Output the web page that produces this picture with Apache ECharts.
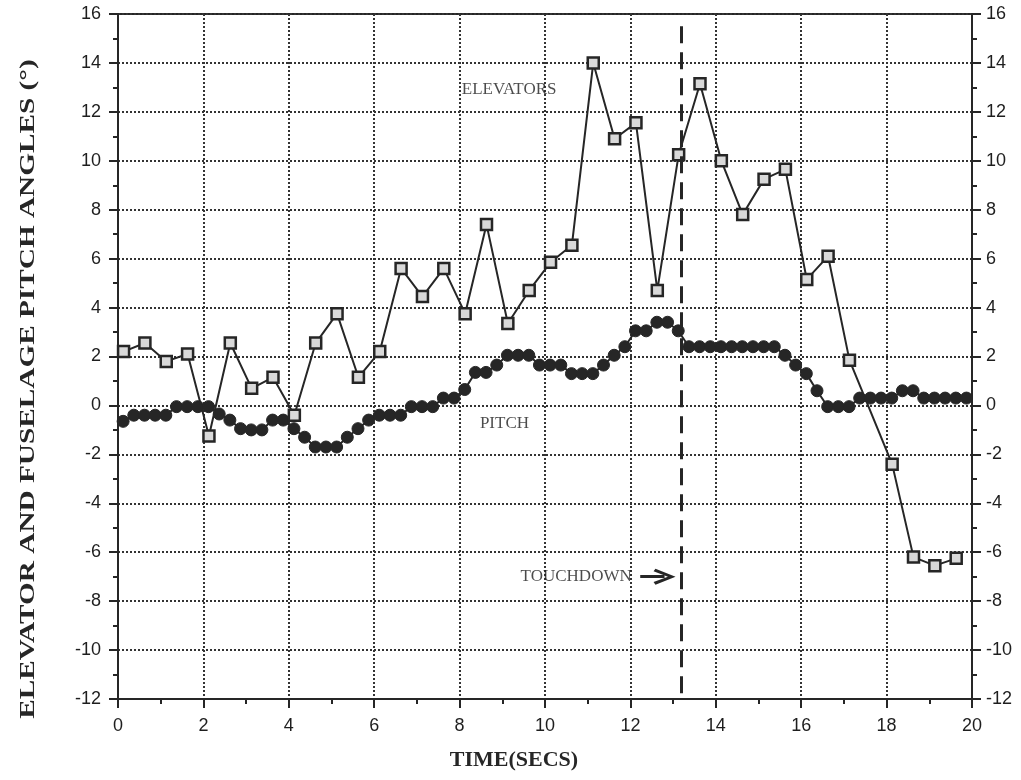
<!DOCTYPE html>
<html>
<head>
<meta charset="utf-8">
<script src="https://cdn.jsdelivr.net/npm/echarts@6/dist/echarts.min.js"></script>
<style>
  html, body { margin: 0; padding: 0; background: #fff; }
  #chart { width: 1021px; height: 780px; }
</style>
</head>
<body>
<div id="chart"></div>
<script>
// ---- Data ----
var elevTime = [0.13, 0.63, 1.13, 1.63, 2.13, 2.63, 3.13, 3.63, 4.13, 4.63,
                5.13, 5.63, 6.13, 6.63, 7.13, 7.63, 8.13, 8.63, 9.13, 9.63,
                10.13, 10.63, 11.13, 11.63, 12.13, 12.63, 13.13, 13.63, 14.13, 14.63,
                15.13, 15.63, 16.13, 16.63, 17.13, 18.13, 18.63, 19.13, 19.63];
var elevValue = [2.2, 2.55, 1.8, 2.1, -1.25, 2.55, 0.7, 1.15, -0.4, 2.55,
                 3.75, 1.15, 2.2, 5.6, 4.45, 5.6, 3.75, 7.4, 3.35, 4.7,
                 5.85, 6.55, 14.0, 10.9, 11.55, 4.7, 10.25, 13.15, 10.0, 7.8,
                 9.25, 9.65, 5.15, 6.1, 1.85, -2.4, -6.2, -6.55, -6.25];

var pitchTime = [0.12, 0.37, 0.62, 0.87, 1.12, 1.37, 1.62, 1.87, 2.12, 2.37,
                 2.62, 2.87, 3.12, 3.37, 3.62, 3.87, 4.12, 4.37, 4.62, 4.87,
                 5.12, 5.37, 5.62, 5.87, 6.12, 6.37, 6.62, 6.87, 7.12, 7.37,
                 7.62, 7.87, 8.12, 8.37, 8.62, 8.87, 9.12, 9.37, 9.62, 9.87,
                 10.12, 10.37, 10.62, 10.87, 11.12, 11.37, 11.62, 11.87, 12.12, 12.37,
                 12.62, 12.87, 13.12, 13.37, 13.62, 13.87, 14.12, 14.37, 14.62, 14.87,
                 15.12, 15.37, 15.62, 15.87, 16.12, 16.37, 16.62, 16.87, 17.12, 17.37,
                 17.62, 17.87, 18.12, 18.37, 18.62, 18.87, 19.12, 19.37, 19.62, 19.87];
var pitchValue = [-0.65, -0.4, -0.4, -0.4, -0.4, -0.05, -0.05, -0.05, -0.05, -0.35,
                  -0.6, -0.95, -1.0, -1.0, -0.6, -0.6, -0.95, -1.3, -1.7, -1.7,
                  -1.7, -1.3, -0.95, -0.6, -0.4, -0.4, -0.4, -0.05, -0.05, -0.05,
                  0.3, 0.3, 0.65, 1.35, 1.35, 1.65, 2.05, 2.05, 2.05, 1.65,
                  1.65, 1.65, 1.3, 1.3, 1.3, 1.65, 2.05, 2.4, 3.05, 3.05,
                  3.4, 3.4, 3.05, 2.4, 2.4, 2.4, 2.4, 2.4, 2.4, 2.4,
                  2.4, 2.4, 2.05, 1.65, 1.3, 0.6, -0.05, -0.05, -0.05, 0.3,
                  0.3, 0.3, 0.3, 0.6, 0.6, 0.3, 0.3, 0.3, 0.3, 0.3];

var touchdownTime = 13.2;
var touchdownTop = 15.5;

var annotationText = ['ELEVATORS', 'PITCH', 'TOUCHDOWN'];
var annotationX = [9.16, 9.05, 10.73];
var annotationY = [12.9, -0.73, -7.0];
var arrowFrom = [12.23, -7.0];
var arrowTo = [12.8, -7.0];

var xMin = 0, xMax = 20, xStep = 2;
var yMin = -12, yMax = 16, yStep = 2;

var xTitle = 'TIME(SECS)';
var yTitle = 'ELEVATOR AND FUSELAGE PITCH ANGLES (°)';

// ---- Build ----
var INK = '#262626';
function pairs(xs, ys) { return xs.map(function (x, i) { return [x, ys[i]]; }); }
var annData = annotationText.map(function (t, i) { return [annotationX[i], annotationY[i], t]; });

var chevron = 'path://M9,0 L18,21 L15,23 L9,8 L3,23 L0,21 Z';

var tickLabel = { color: '#1e1e1e', fontFamily: 'Liberation Sans', fontSize: 18 };
var gridLine = { color: '#333', width: 2, type: [2, 2] };

var chart = echarts.init(document.getElementById('chart'), null, { renderer: 'canvas' });
chart.setOption({
  animation: false,
  backgroundColor: '#fff',
  grid: { left: 118, right: 49, top: 14, bottom: 81, show: true,
          borderColor: INK, borderWidth: 2, backgroundColor: 'transparent' },
  xAxis: {
    type: 'value', min: xMin, max: xMax, interval: xStep,
    axisLine: { show: true, onZero: false, lineStyle: { color: INK, width: 2 } },
    axisTick: { show: true, length: 9, lineStyle: { color: INK, width: 2 } },
    minorTick: { show: true, splitNumber: 2, length: 5, lineStyle: { color: INK, width: 2 } },
    axisLabel: Object.assign({ margin: 18 }, tickLabel),
    splitLine: { show: true, lineStyle: gridLine }
  },
  yAxis: [{
    type: 'value', min: yMin, max: yMax, interval: yStep, position: 'left',
    axisLine: { show: true, onZero: false, lineStyle: { color: INK, width: 2 } },
    axisTick: { show: true, length: 9, lineStyle: { color: INK, width: 2 } },
    minorTick: { show: true, splitNumber: 2, length: 5, lineStyle: { color: INK, width: 2 } },
    axisLabel: Object.assign({ margin: 17 }, tickLabel),
    splitLine: { show: true, lineStyle: gridLine }
  }, {
    type: 'value', min: yMin, max: yMax, interval: yStep, position: 'right',
    axisLine: { show: true, onZero: false, lineStyle: { color: INK, width: 2 } },
    axisTick: { show: true, length: 9, lineStyle: { color: INK, width: 2 } },
    minorTick: { show: true, splitNumber: 2, length: 5, lineStyle: { color: INK, width: 2 } },
    axisLabel: Object.assign({ margin: 14 }, tickLabel),
    splitLine: { show: false }
  }],
  graphic: [{
    type: 'text', x: 28, y: 389, rotation: Math.PI / 2, scaleX: 1.33,
    style: { text: yTitle, fill: INK, font: 'bold 22px "Liberation Serif"',
             textAlign: 'center', textVerticalAlign: 'middle' }
  }, {
    type: 'text', x: 514, y: 760,
    style: { text: xTitle, fill: INK, font: 'bold 22px "Liberation Serif"',
             textAlign: 'center', textVerticalAlign: 'middle' }
  }],
  series: [{
    name: 'Pitch', type: 'line', data: pairs(pitchTime, pitchValue),
    symbol: 'circle', symbolSize: 12, showAllSymbol: true,
    lineStyle: { color: INK, width: 2 },
    itemStyle: { color: INK, borderColor: INK, borderWidth: 1 },
    z: 3,
    markLine: {
      silent: true, symbol: ['none', 'none'], animation: false,
      label: { show: false },
      lineStyle: { color: INK, width: 3, type: [17, 9] },
      data: [[{ coord: [touchdownTime, touchdownTop] }, { coord: [touchdownTime, yMin] }]]
    }
  }, {
    name: 'Elevators', type: 'line', data: pairs(elevTime, elevValue),
    symbol: 'rect', symbolSize: 11, showAllSymbol: true,
    lineStyle: { color: INK, width: 2 },
    itemStyle: { color: '#d9d9d9', borderColor: INK, borderWidth: 2.5 },
    z: 4
  }, {
    name: 'Annotations', type: 'scatter', data: annData, symbolSize: 0,
    silent: true,
    label: { show: true, position: 'inside', formatter: function (p) { return p.value[2]; },
             color: '#1e1e1e', fontFamily: 'Liberation Serif', fontSize: 17 },
    markLine: {
      silent: true, animation: false, symbol: ['none', chevron], symbolSize: [16, 22],
      label: { show: false },
      lineStyle: { color: INK, width: 3, type: 'solid' },
      itemStyle: { color: INK },
      data: [[{ coord: arrowFrom }, { coord: arrowTo }]]
    }
  }]
});
</script>
</body>
</html>
